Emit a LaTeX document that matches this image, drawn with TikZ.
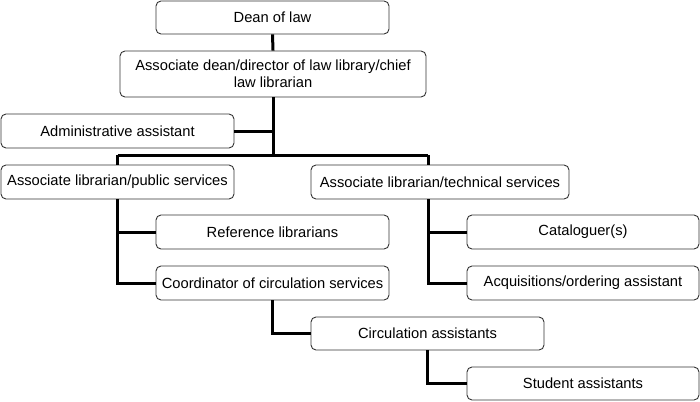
\documentclass[tikz,border=0pt]{standalone}
\usepackage{fontspec}
\setmainfont{Liberation Sans}
\begin{document}
\begin{tikzpicture}[x=1pt,y=-1pt,
  font=\fontsize{14.7}{17}\selectfont,
  orgbox/.style={draw=black!80,line width=.9pt,rounded corners=5pt,fill=white,
    inner sep=0pt,minimum height=34pt,align=center},
  link/.style={line width=3pt}]
  \useasboundingbox (0,0) rectangle (700,401);
  \node[orgbox,minimum width=233pt,minimum height=33pt] (dean) at (272.5,17.5) {Dean of law};
  \node[orgbox,minimum width=306pt,minimum height=46pt] (assoc) at (273,74) {Associate dean/director of law library/chief\\law librarian};
  \node[orgbox,minimum width=233pt] (admin) at (117.5,131) {Administrative assistant};
  \node[orgbox,minimum width=233pt] (public) at (117.5,182) {Associate librarian/public services};
  \node[orgbox,minimum width=258pt] (tech) at (440,182) {Associate librarian/technical services};
  \node[orgbox,minimum width=233pt] (ref) at (272.5,232) {Reference librarians};
  \node[orgbox,minimum width=233pt] (coord) at (272.5,283) {Coordinator of circulation services};
  \node[orgbox,minimum width=232pt] (catal) at (583,232) {Cataloguer(s)};
  \node[orgbox,minimum width=232pt] (acq) at (583,283) {Acquisitions/ordering assistant};
  \node[orgbox,minimum width=233pt,minimum height=33pt] (circ) at (427.5,333.5) {Circulation assistants};
  \node[orgbox,minimum width=232pt,minimum height=33pt] (student) at (583,383.5) {Student assistants};
  \coordinate (hub) at (273,155);
  \coordinate (ls) at (117.5,155);
  \coordinate (rs) at (428,155);
  % connectors
  \draw[link] (dean.south) -- (assoc.north);
  \draw[link] (assoc.south) -- (hub);
  \draw[link] (admin.east) -- (admin.east -| hub);
  \draw[link] (ls) -- (rs);
  \draw[link] (ls) -- (public.north);
  \draw[link] (rs) -- (rs |- tech.north);
  \draw[link] (public.south) |- (ref.west);
  \draw[link] (public.south) |- (coord.west);
  \draw[link] (rs |- tech.south) |- (catal.west);
  \draw[link] (rs |- tech.south) |- (acq.west);
  \draw[link] (coord.south) |- (circ.west);
  \draw[link] (circ.south) |- (student.west);
\end{tikzpicture}
\end{document}
